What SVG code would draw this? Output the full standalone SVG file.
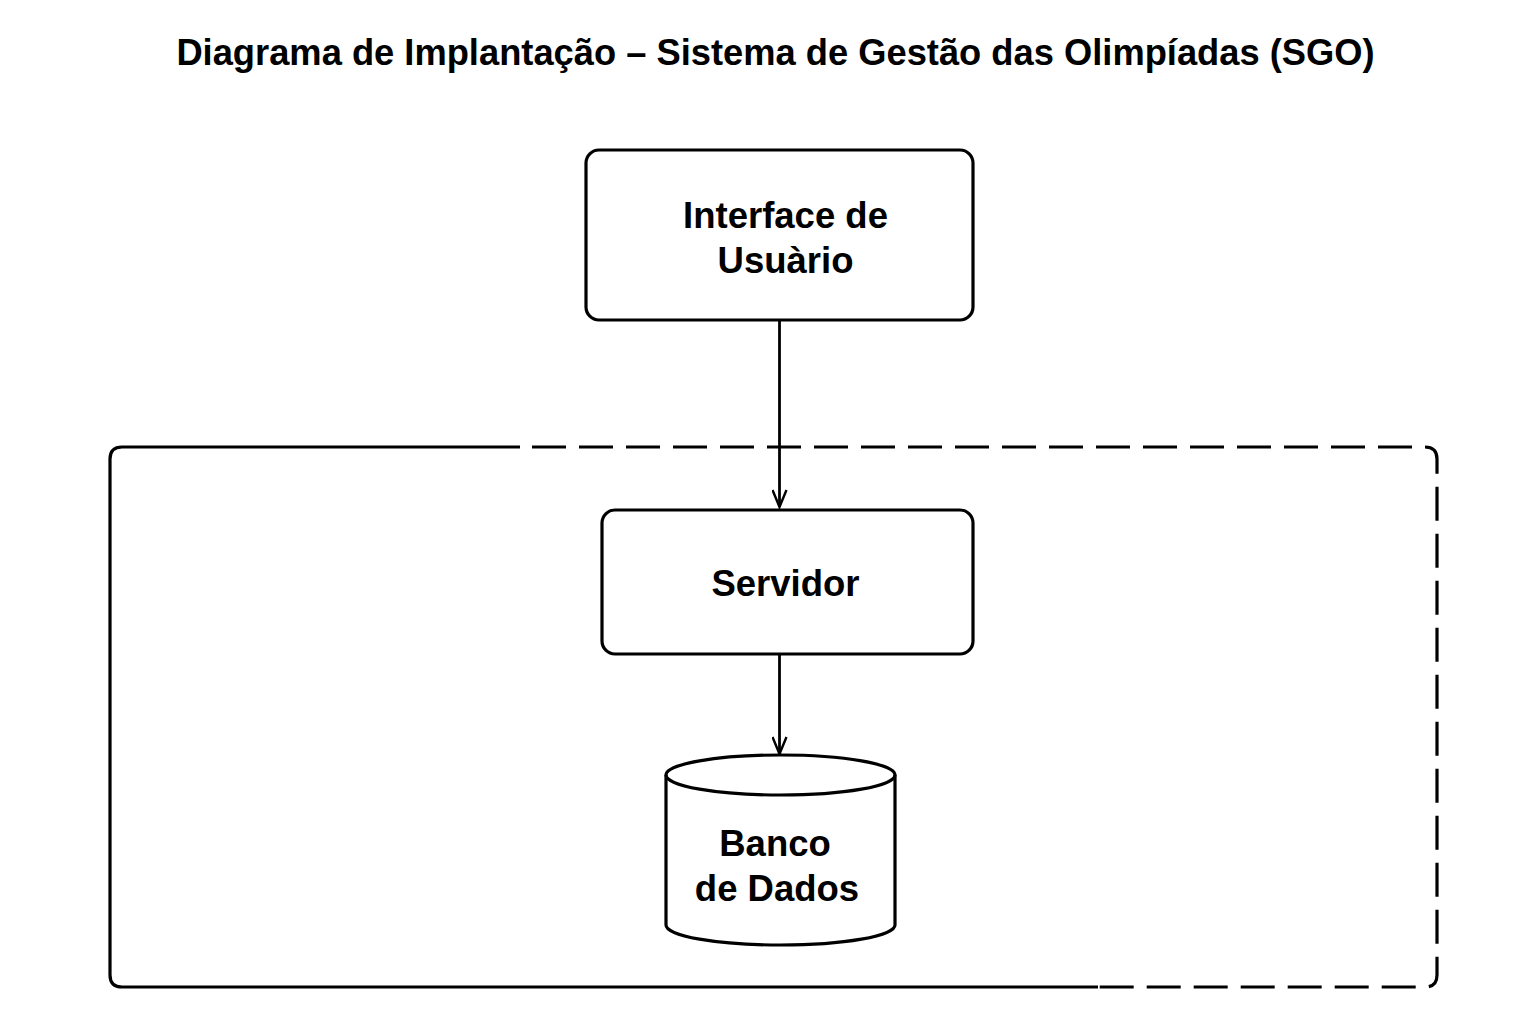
<svg xmlns="http://www.w3.org/2000/svg" width="1536" height="1024" viewBox="0 0 1536 1024">
<defs>
<style>
.t{font-family:"Liberation Sans",Arial,sans-serif;font-weight:bold;fill:#000;text-anchor:middle}
.box{fill:#fff;stroke:#000;stroke-width:3.2}
.cont{fill:none;stroke:#000;stroke-width:3.2}
.edge{fill:none;stroke:#000;stroke-width:2.8}
</style>
<marker id="arr" markerWidth="20" markerHeight="16" refX="18" refY="8" orient="auto" markerUnits="userSpaceOnUse" viewBox="0 0 20 16">
<path d="M1,1 L18,8 L1,15" fill="none" stroke="#000" stroke-width="2.4"/>
</marker>
</defs>
<rect width="1536" height="1024" fill="#fff"/>
<text class="t" x="775.5" y="65" font-size="36.3">Diagrama de Implantação – Sistema de Gestão das Olimpíadas (SGO)</text>
<g id="container">
<path class="cont" d="M520,447 L122,447 Q110,447 110,459 L110,975 Q110,987 122,987 L1098,987"/>
<path class="cont" stroke-dasharray="34 13" stroke-dashoffset="-12" d="M520,447 L1425,447 Q1437,447 1437,459 L1437,975 Q1437,987 1425,987 L1098,987"/>
</g>
<g id="interface">
<rect class="box" x="586" y="150" width="387" height="170" rx="13"/>
<text class="t" x="785.5" y="228" font-size="36.5">Interface de</text>
<text class="t" x="785.5" y="273" font-size="36.5">Usuàrio</text>
</g>
<g id="servidor">
<rect class="box" x="602" y="510" width="371" height="144" rx="13"/>
<text class="t" x="785.5" y="596" font-size="36.5">Servidor</text>
</g>
<g id="banco">
<path class="box" d="M666,775 L666,925 A114.5,20 0 0 0 895,925 L895,775 A114.5,20 0 0 0 666,775 Z"/>
<path class="cont" d="M666,775 A114.5,20 0 0 0 895,775"/>
<text class="t" x="775" y="856" font-size="36.5">Banco</text>
<text class="t" x="777" y="901" font-size="36.5">de Dados</text>
</g>
<g id="connectors">
<line class="edge" x1="779.5" y1="321" x2="779.5" y2="507" marker-end="url(#arr)"/>
<line class="edge" x1="779.5" y1="655" x2="779.5" y2="754" marker-end="url(#arr)"/>
</g>
</svg>
